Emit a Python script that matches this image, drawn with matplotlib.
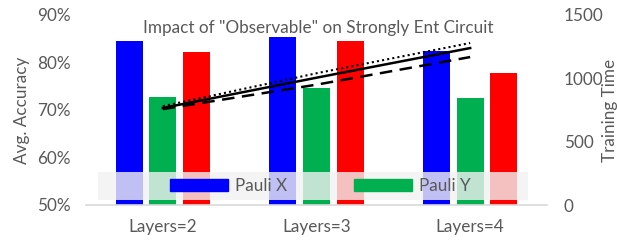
import matplotlib
matplotlib.use("Agg")
import matplotlib.pyplot as plt
from matplotlib.patches import Rectangle, Patch
import numpy as np

categories = ["Layers=2", "Layers=3", "Layers=4"]
pauli_x = [84.5, 85.4, 82.4]
pauli_y = [72.7, 74.6, 72.5]
pauli_z = [82.2, 84.5, 77.8]
time_solid = [766, 1005, 1239]
time_dotted = [780, 1040, 1279]
time_dashed = [757, 950, 1168]

plt.rcParams['font.family'] = ['Lato', 'DejaVu Sans']
GREY = '#595959'
FS = 12.3

fig = plt.figure(figsize=(6.17, 2.42), dpi=100)
ax = fig.add_axes([86/617, 37/242, 461/617, 190/242])
x = np.arange(len(categories))
w = 0.176
off = 0.22
ax.bar(x - off, pauli_x, w, color='#0000FF', zorder=2)
ax.bar(x, pauli_y, w, color='#00B050', zorder=2)
ax.bar(x + off, pauli_z, w, color='#FF0000', zorder=2)
ax.set_ylim(50, 90)
ax.set_xlim(-0.5, 2.5)
ax.set_yticks([50, 60, 70, 80, 90])
ax.set_yticklabels(['50%', '60%', '70%', '80%', '90%'])
ax.set_xticks(x)
ax.set_xticklabels(categories)
for s in ['top', 'right', 'left']:
    ax.spines[s].set_visible(False)
ax.spines['bottom'].set_color('#d9d9d9')
ax.spines['bottom'].set_linewidth(1.2)
ax.tick_params(axis='both', length=0, labelcolor=GREY, labelsize=FS)
ax.tick_params(axis='x', pad=10)
ax.tick_params(axis='y', pad=11)
ax.set_ylabel('Avg. Accuracy', color=GREY, fontsize=FS, labelpad=5)

ax2 = ax.twinx()
ax2.plot(x, time_solid, color='black', lw=1.8, zorder=3)
ax2.plot(x, time_dotted, color='black', lw=1.5, ls=(0, (1, 1.5)), zorder=3)
ax2.plot(x, time_dashed, color='black', lw=1.8, ls=(0, (5, 3)), zorder=3)
ax2.set_ylim(0, 1500)
ax2.set_yticks([0, 500, 1000, 1500])
for s in ['top', 'right', 'left', 'bottom']:
    ax2.spines[s].set_visible(False)
ax2.tick_params(axis='y', length=0, labelcolor=GREY, labelsize=FS, pad=12)
ax2.set_ylabel('Training Time', color=GREY, fontsize=FS, labelpad=-1)

fig.text(318.5/617, 1 - 28/242, 'Impact of "Observable" on Strongly Ent Circuit',
         ha='center', va='center', color=GREY, fontsize=FS)

# legend background
fig.patches.append(Rectangle((98/617, 1 - 200/242), 430/617, 28/242,
                             transform=fig.transFigure, facecolor='#f2f2f2',
                             alpha=0.8, edgecolor='none', zorder=5))
handles = [Patch(color='#0000FF'), Patch(color='#00B050')]
leg = fig.legend(handles, ['Pauli X', 'Pauli Y'], loc='center',
                 bbox_to_anchor=(320.5/617, 1 - 186/242), ncol=2, frameon=False,
                 fontsize=FS, handlelength=3.4, handleheight=0.65,
                 handletextpad=0.4, columnspacing=3.9, borderpad=0)
for t in leg.get_texts():
    t.set_color(GREY)
leg.set_zorder(6)

fig.savefig('out.png', dpi=100)
